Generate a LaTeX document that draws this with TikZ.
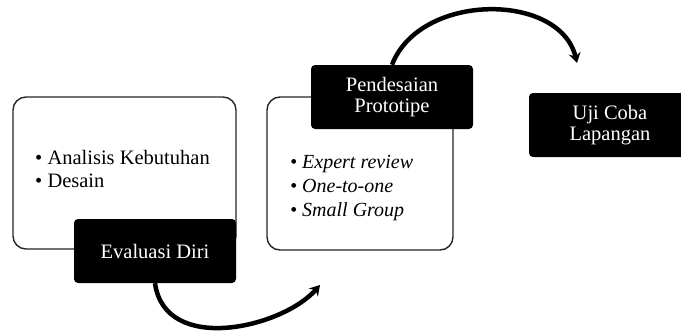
\documentclass[tikz,border=0pt]{standalone}
\usepackage{fontspec}
\setmainfont{Liberation Serif}
\usetikzlibrary{arrows.meta}

\begin{document}
\begin{tikzpicture}[x=1pt, y=-1pt]
   \tikzstyle{every node}=[font=\fontsize{20.5}{23}\selectfont]
   \tikzstyle{panel}=[draw=black!85, line width=1.4pt, fill=white, rounded corners=13pt, minimum width=223pt, minimum height=152pt]
   \tikzstyle{stage}=[fill=black, text=white, rounded corners=4pt, minimum width=162pt, minimum height=64pt, align=center, inner sep=2pt]
   \tikzstyle{items}=[align=left, anchor=west, inner sep=0pt]
   \tikzstyle{flow}=[line width=4.5pt, -{Stealth[length=10pt,width=12pt]}]

\useasboundingbox (0,0) rectangle (681,333);

\node[panel] (analisis) at (124.5,173) {};
\node[items] (analisisitems) at (35,168.5) {\textbullet\ Analisis Kebutuhan\\ \textbullet\ Desain};
\node[stage] (evaluasi) at (155,251) {Evaluasi Diri};

\node[panel, minimum width=186pt, minimum height=153pt] (prototipe) at (360,173.5) {};
\node[items, font=\fontsize{20}{24}\selectfont\itshape] (prototipeitems) at (290,188) {\textbullet\ Expert review\\ \textbullet\ One-to-one\\ \textbullet\ Small Group};
\node[stage] (pendesaian) at (392,97) {Pendesaian\\[-2pt] Prototipe};

\node[stage] (ujicoba) at (610,125) {Uji Coba\\[-2pt] Lapangan};

\coordinate (toprototipe) at (320,285);
\coordinate (toujicoba) at (577,63);

\draw[flow] (evaluasi.south) .. controls (165,355) and (282,328) .. (toprototipe);
\draw[flow] (pendesaian.north) .. controls (420,-8) and (560,-8) .. (toujicoba);

\end{tikzpicture}
\end{document}
